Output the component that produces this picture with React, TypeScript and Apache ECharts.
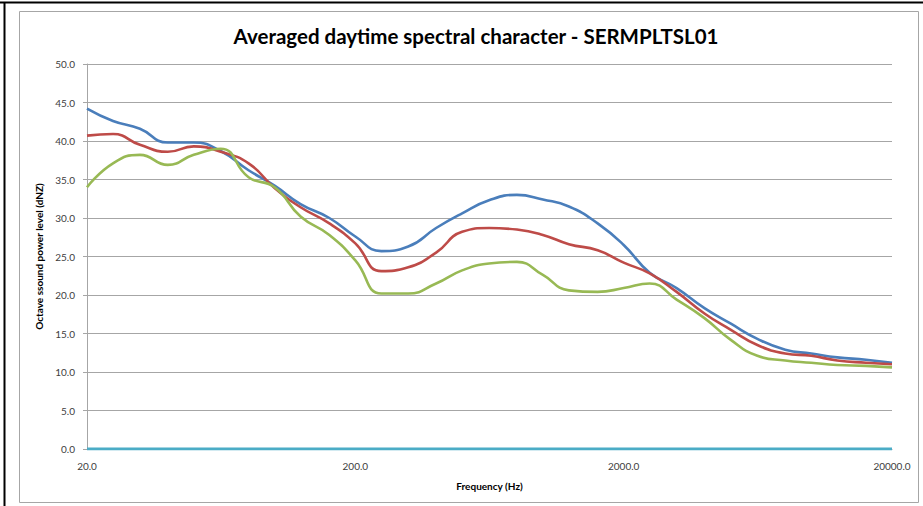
import React, { useEffect, useRef } from "react";
import * as echarts from "echarts";

const frequencies = [20, 25, 31.5, 40, 50, 63, 80, 100, 125, 160, 200, 250, 315, 400, 500, 630, 800, 1000, 1250, 1600, 2000, 2500, 3150, 4000, 5000, 6300, 8000, 10000, 12500, 16000, 20000];
const blueValues = [44.2, 42.6, 41.6, 39.8, 39.8, 38.7, 36.2, 34.2, 31.8, 30.0, 27.6, 25.7, 26.3, 28.7, 30.6, 32.3, 33.0, 32.4, 31.5, 29.3, 26.5, 22.9, 20.9, 18.3, 16.3, 14.3, 12.9, 12.4, 11.9, 11.6, 11.2];
const redValues = [40.7, 40.9, 39.5, 38.6, 39.3, 38.6, 37.1, 33.9, 31.4, 29.3, 26.7, 23.1, 23.6, 25.5, 28.2, 28.7, 28.5, 27.8, 26.6, 25.8, 24.2, 22.8, 20.4, 17.6, 15.5, 13.5, 12.4, 12.1, 11.5, 11.2, 11.0];
const greenValues = [34.0, 37.1, 38.2, 36.9, 38.2, 39.0, 35.3, 34.0, 30.2, 27.8, 24.5, 20.2, 20.2, 21.5, 23.2, 24.1, 24.3, 22.6, 20.6, 20.4, 20.9, 21.5, 19.4, 17.0, 14.2, 12.1, 11.5, 11.2, 10.9, 10.8, 10.6];
const baselineValues = frequencies.map(() => 0);

const chartTitle = "Averaged daytime spectral character - SERMPLTSL01";
const xAxisName = "Frequency (Hz)";
const yAxisName = "Octave ssound power level (dNZ)";

const toPairs = (vals: number[]) => frequencies.map((f, i) => [Math.log10(f / 20), vals[i]]);

export default function App() {
  const ref = useRef<HTMLDivElement>(null);
  useEffect(() => {
    if (!ref.current) return;
    const chart = echarts.init(ref.current, null, { renderer: "svg" });
    const font = "Lato, 'Open Sans', sans-serif";
    const lineSeries = (name: string, vals: number[], color: string, width = 2.6) => ({
      name,
      type: "line",
      data: toPairs(vals),
      smooth: 0.5,
      showSymbol: false,
      symbol: "none",
      lineStyle: { color, width },
      itemStyle: { color },
    });
    chart.setOption({
      animation: false,
      backgroundColor: "#ffffff",
      title: {
        text: chartTitle,
        left: 471,
        top: 20,
        textAlign: "center",
        textStyle: { fontFamily: font, fontSize: 20.5, fontWeight: "bold", color: "#000" },
      },
      graphic: [
        { type: "rect", shape: { x: 19.5, y: 11.5, width: 899, height: 491 }, style: { fill: "none", stroke: "#a6a6a6", lineWidth: 1 }, z: -10 },
        { type: "line", shape: { x1: 0, y1: 2.5, x2: 923, y2: 2.5 }, style: { stroke: "#000", lineWidth: 2 } },
        { type: "line", shape: { x1: 4.5, y1: 2, x2: 4.5, y2: 506 }, style: { stroke: "#000", lineWidth: 2 } },
      ],
      grid: { left: 87, right: 31, top: 64, bottom: 57, containLabel: false },
      xAxis: {
        type: "value",
        min: 0,
        max: 3,
        interval: 1,
        name: xAxisName,
        nameLocation: "middle",
        nameGap: 32,
        nameTextStyle: { fontFamily: font, fontSize: 10, fontWeight: "bold", color: "#000" },
        axisLine: { show: true, lineStyle: { color: "#a6a6a6" } },
        axisTick: { show: false },
        splitLine: { show: false },
        axisLabel: {
          fontFamily: font,
          fontSize: 10,
          color: "#404040",
          margin: 12,
          formatter: (v: number) => (20 * Math.pow(10, v)).toFixed(1),
        },
      },
      yAxis: {
        type: "value",
        min: 0,
        max: 50,
        interval: 5,
        name: yAxisName,
        nameLocation: "middle",
        nameGap: 37,
        nameTextStyle: { fontFamily: font, fontSize: 10, fontWeight: "bold", color: "#000" },
        axisLine: { show: true, lineStyle: { color: "#a6a6a6" } },
        axisTick: { show: true, length: 4, lineStyle: { color: "#a6a6a6" } },
        splitLine: { show: true, lineStyle: { color: "#a6a6a6", width: 1 } },
        axisLabel: {
          fontFamily: font,
          fontSize: 10,
          color: "#404040",
          margin: 12,
          formatter: (v: number) => v.toFixed(1),
        },
      },
      series: [
        lineSeries("Series 1", blueValues, "#4A7EBB"),
        lineSeries("Series 2", redValues, "#BE4B48"),
        lineSeries("Series 3", greenValues, "#98B954"),
        lineSeries("Series 4", baselineValues, "#4BACC6", 3),
      ],
    });
    return () => chart.dispose();
  }, []);
  return <div ref={ref} style={{ position: "fixed", left: 0, top: 0, width: 923, height: 506 }} />;
}
